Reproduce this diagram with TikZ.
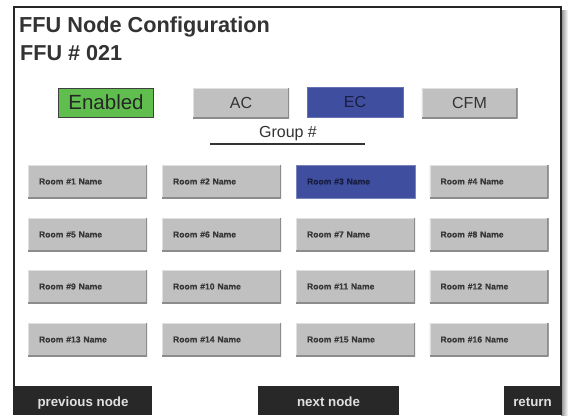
\documentclass[tikz,border=0pt]{standalone}
\usepackage{fontspec}
\setmainfont{Liberation Sans}
\newfontfamily\roomfont[FakeBold=0.6]{Liberation Sans Bold}
\begin{document}
\begin{tikzpicture}[x=1pt,y=-1pt,
  txt/.style={text=black!80},
  bevelbtn/.style={fill=btngray, draw=none, inner sep=0pt, minimum width=96pt, minimum height=30pt,
    path picture={
      \draw[white!88!black, line width=2.4pt] (path picture bounding box.south west) -- (path picture bounding box.north west) -- (path picture bounding box.north east);
      \draw[black!45, line width=2.4pt] (path picture bounding box.north east) -- (path picture bounding box.south east) -- (path picture bounding box.south west);
    }},
  modebtn/.style={bevelbtn, font=\fontsize{16}{18}\selectfont, text=black!80},
  roombtn/.style={bevelbtn, minimum width=119pt, minimum height=33pt, text width=97pt, inner xsep=11pt,
    align=left, font=\roomfont\fontsize{8.6}{10}\selectfont, text=black!78},
  navbtn/.style={fill=navdark, draw=none, minimum height=29pt, inner sep=0pt, text height=12.6pt, text depth=0pt,
    text=white!88!black, font=\fontsize{13.3}{15}\selectfont\bfseries},
]
\definecolor{btngray}{RGB}{192,192,192}
\definecolor{selblue}{RGB}{64,78,160}
\definecolor{okgreen}{RGB}{96,190,78}
\definecolor{navdark}{RGB}{40,40,40}
\useasboundingbox (0,0) rectangle (569,415);
\fill[white] (0,0) rectangle (569,415);
% shadow
\shade[left color=black!45, right color=white] (561,10) rectangle (568,415);
% frame
\draw[black!85, line width=1.8pt] (14,415) -- (14,7) -- (561,7) -- (561,415);
% titles
\node[anchor=base west, inner sep=0pt, txt, font=\fontsize{21.7}{26}\selectfont\bfseries] (title) at (19,32) {FFU Node Configuration};
\node[anchor=base west, inner sep=0pt, txt, font=\fontsize{21.6}{26}\selectfont\bfseries] (ffu) at (20,60) {FFU \# 021};
% mode buttons
\node[fill=okgreen, draw=black!75, line width=1pt, minimum width=95pt, minimum height=29pt, inner sep=0pt,
  font=\fontsize{20.5}{22}\selectfont, text=black!85] (enabled) at (106,102.5) {Enabled};
\node[modebtn] (ac) at (241,103) {AC};
\node[modebtn, fill=selblue, path picture={}, draw=selblue!80!white, line width=0.6pt, text=selblue!40!black] (ec) at (355,102) {EC};
\node[modebtn] (cfm) at (469.5,103) {CFM};
% group
\node[anchor=base, inner sep=0pt, txt, font=\fontsize{16}{18}\selectfont] (group) at (288,137.5) {Group \#};
\coordinate (gl) at (210,144);
\coordinate (gr) at (365,144);
\draw[black!80, line width=1.4pt] (gl) -- (gr);
% rooms
\foreach \r/\y in {0/181.5, 1/234.5, 2/286.5, 3/339.5} {
  \foreach \c/\x in {1/87.5, 2/221.5, 3/355.5, 4/489} {
    \pgfmathtruncatemacro{\n}{\r*4+\c}
    \ifnum\n=3
      \node[roombtn, fill=selblue, path picture={}, draw=selblue!70!white, line width=0.6pt, text=selblue!40!black] (room\n) at (\x,\y) {Room \#\n\ Name};
    \else
      \node[roombtn] (room\n) at (\x,\y) {Room \#\n\ Name};
    \fi
  }
}
% nav buttons
\node[navbtn, minimum width=138pt] (prev) at (83,400.5) {previous node};
\node[navbtn, minimum width=141pt] (next) at (328.5,400.5) {next node};
\node[navbtn, minimum width=57pt] (ret) at (532.5,400.5) {return};
\end{tikzpicture}
\end{document}
